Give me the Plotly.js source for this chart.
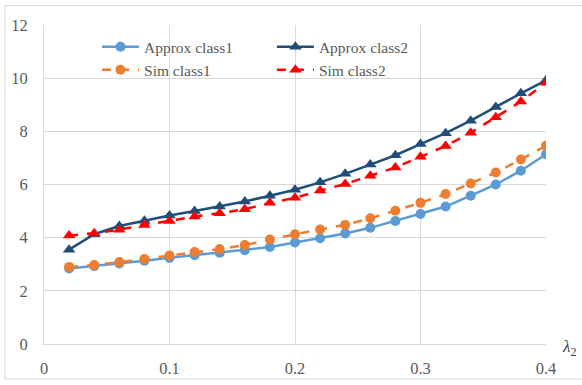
<!DOCTYPE html>
<html>
<head>
<meta charset="utf-8">
<script src="https://cdn.plot.ly/plotly-3.0.1.min.js"></script>
<style>html,body{margin:0;padding:0;background:#fff;}#chart{width:582px;height:385px;}</style>
</head>
<body>
<div id="chart"></div>
<script>
const lambda2 = [0.02,0.04,0.06,0.08,0.10,0.12,0.14,0.16,0.18,0.20,0.22,0.24,0.26,0.28,0.30,0.32,0.34,0.36,0.38,0.40];
const approxClass1 = [2.84,2.93,3.03,3.13,3.24,3.34,3.43,3.53,3.65,3.82,3.98,4.16,4.37,4.63,4.89,5.17,5.58,6.00,6.52,7.14];
const simClass1    = [2.90,2.97,3.08,3.20,3.33,3.46,3.57,3.72,3.93,4.13,4.31,4.48,4.73,5.01,5.31,5.64,6.04,6.45,6.94,7.46];
const approxClass2 = [3.55,4.13,4.44,4.64,4.83,5.00,5.17,5.36,5.58,5.80,6.08,6.40,6.75,7.10,7.52,7.93,8.40,8.92,9.43,9.92];
const simClass2    = [4.08,4.17,4.30,4.48,4.63,4.80,4.92,5.07,5.31,5.50,5.77,6.02,6.33,6.64,7.04,7.45,7.95,8.53,9.12,9.83];
const xTicks = [0,0.1,0.2,0.3,0.4];
const xTickText = ['0','0.1','0.2','0.3','0.4'];
const yTicks = [0,2,4,6,8,10,12];

const FONT = 'Liberation Serif, serif';
const traces = [
  {x: lambda2, y: approxClass1, name: 'Approx class1', mode: 'lines+markers', legend: 'legend',
   line: {color: '#5B9BD5', width: 2.5}, marker: {symbol: 'circle', size: 10, color: '#5B9BD5'}},
  {x: lambda2, y: simClass1, name: 'Sim class1', mode: 'lines+markers', legend: 'legend',
   line: {color: '#ED7D31', width: 2.5, dash: 'dash'}, marker: {symbol: 'circle', size: 10, color: '#ED7D31'}},
  {x: lambda2, y: approxClass2, name: 'Approx class2', mode: 'lines+markers', legend: 'legend2',
   line: {color: '#1F4E79', width: 2.5}, marker: {symbol: 'triangle-up', size: 11, color: '#1F4E79'}},
  {x: lambda2, y: simClass2, name: 'Sim class2', mode: 'lines+markers', legend: 'legend2',
   line: {color: '#FF0000', width: 2.5, dash: 'dash'}, marker: {symbol: 'triangle-up', size: 11, color: '#FF0000'}}
];

const legendCommon = {
  orientation: 'v', bgcolor: 'rgba(0,0,0,0)', borderwidth: 0,
  font: {family: FONT, size: 15.5, color: '#595959'},
  xanchor: 'left', yanchor: 'top', tracegroupgap: 0, itemwidth: 37
};

const layout = {
  width: 582, height: 385,
  margin: {l: 44, r: 36, t: 25, b: 41},
  paper_bgcolor: '#fff', plot_bgcolor: '#fff',
  font: {family: FONT, size: 16, color: '#595959'},
  showlegend: true,
  legend: Object.assign({}, legendCommon, {x: 0.1056, y: 0.984}),
  legend2: Object.assign({}, legendCommon, {x: 0.454, y: 0.984}),
  xaxis: {
    range: [0, 0.4], tickvals: xTicks, ticktext: xTickText,
    showgrid: true, gridcolor: '#D9D9D9', gridwidth: 1,
    zeroline: false, showline: true, linecolor: '#D9D9D9', linewidth: 1,
    ticks: '', tickfont: {family: FONT, size: 16.5, color: '#595959'}, ticklabelstandoff: 9
  },
  yaxis: {
    range: [0, 12], tickvals: yTicks,
    showgrid: true, gridcolor: '#D9D9D9', gridwidth: 1,
    zeroline: false, showline: true, linecolor: '#D9D9D9', linewidth: 1,
    ticks: '', tickfont: {family: FONT, size: 16.5, color: '#595959'}, ticklabelstandoff: 12
  },
  shapes: [
    {type: 'rect', xref: 'paper', yref: 'paper', x0: -0.0777, x1: 1.09, y0: -0.1097, y1: 1.061,
     line: {color: '#D9D9D9', width: 1}, fillcolor: 'rgba(0,0,0,0)', layer: 'below'}
  ],
  annotations: [
    {xref: 'paper', yref: 'paper', x: 1.046, y: -0.012, xanchor: 'center', yanchor: 'middle',
     showarrow: false, text: '<i>λ</i><sub>2</sub>', font: {family: FONT, size: 17, color: '#404040'}}
  ]
};

Plotly.newPlot('chart', traces, layout, {displayModeBar: false, staticPlot: true});
</script>
</body>
</html>
